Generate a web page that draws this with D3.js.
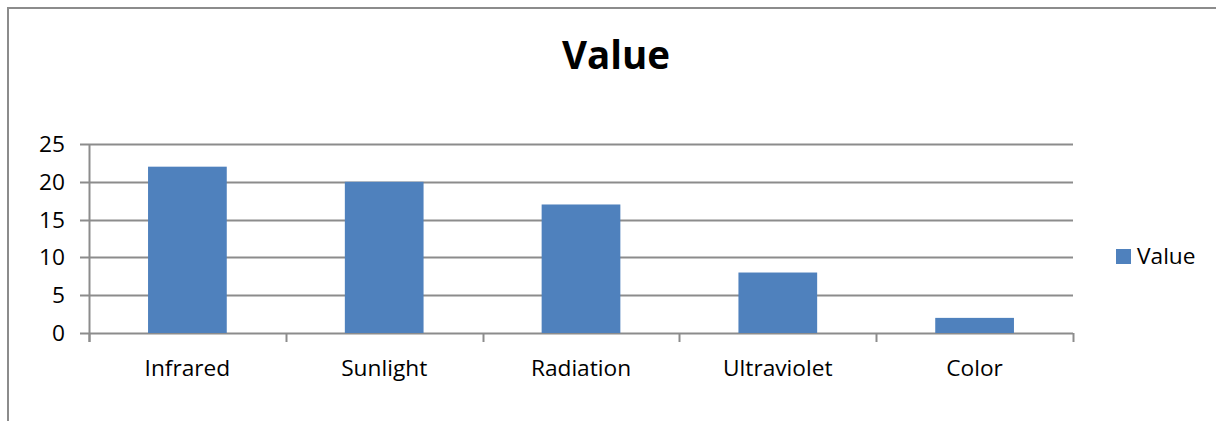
<!DOCTYPE html>
<html>
<head>
<meta charset="utf-8">
<script src="https://cdn.jsdelivr.net/npm/d3@7"></script>
<style>
  html, body { margin: 0; padding: 0; background: #fff; }
  svg { display: block; font-family: "Open Sans", "Noto Sans", sans-serif; }
</style>
</head>
<body>
<script>
// Chart data
const categories = ["Infrared", "Sunlight", "Radiation", "Ultraviolet", "Color"];
const values = [22, 20, 17, 8, 2];
const yTicks = [0, 5, 10, 15, 20, 25];
const seriesName = "Value";
const titleText = "Value";

const W = 1216, H = 421;
const plot = { left: 89, right: 1073, top: 144, bottom: 333 };
const barColor = "#4F81BD";
const gridColor = "#8c8c8c";
const labelSize = 22.7;

const svg = d3.select("body").append("svg")
  .attr("width", W).attr("height", H);

// Outer chart frame (top and left edges visible)
svg.append("path")
  .attr("d", `M8,${H} L8,8 L${W},8`)
  .attr("fill", "none")
  .attr("stroke", gridColor)
  .attr("stroke-width", 2);

const x = d3.scaleBand()
  .domain(categories)
  .range([plot.left, plot.right])
  .paddingInner(0.6)
  .paddingOuter(0.3);

const y = d3.scaleLinear()
  .domain([0, 25])
  .range([plot.bottom, plot.top]);

// Horizontal gridlines with small ticks left of the axis
svg.append("g")
  .selectAll("line")
  .data(yTicks)
  .join("line")
  .attr("x1", plot.left - 9)
  .attr("x2", plot.right)
  .attr("y1", d => Math.round(y(d)) + 0.5)
  .attr("y2", d => Math.round(y(d)) + 0.5)
  .attr("stroke", gridColor)
  .attr("stroke-width", 2);

// Y axis labels
svg.append("g")
  .selectAll("text")
  .data(yTicks)
  .join("text")
  .attr("x", 65)
  .attr("y", d => y(d) + 8)
  .attr("text-anchor", "end")
  .attr("font-size", labelSize)
  .attr("fill", "#000")
  .text(d => d);

// Vertical axis line
svg.append("line")
  .attr("x1", plot.left + 0.5).attr("x2", plot.left + 0.5)
  .attr("y1", plot.top).attr("y2", plot.bottom + 9)
  .attr("stroke", gridColor).attr("stroke-width", 2);

// Category boundary ticks on the x axis
const boundaries = d3.range(categories.length + 1).map(i => plot.left + i * (plot.right - plot.left) / categories.length);
svg.append("g")
  .selectAll("line")
  .data(boundaries)
  .join("line")
  .attr("x1", d => Math.round(d) + 0.5)
  .attr("x2", d => Math.round(d) + 0.5)
  .attr("y1", plot.bottom)
  .attr("y2", plot.bottom + 9)
  .attr("stroke", gridColor)
  .attr("stroke-width", 2);

// Bars
svg.append("g")
  .selectAll("rect")
  .data(categories.map((c, i) => ({ c, v: values[i] })))
  .join("rect")
  .attr("x", d => x(d.c))
  .attr("width", x.bandwidth())
  .attr("y", d => y(d.v))
  .attr("height", d => y(0) - y(d.v))
  .attr("fill", barColor);

// Category labels
svg.append("g")
  .selectAll("text")
  .data(categories)
  .join("text")
  .attr("x", d => x(d) + x.bandwidth() / 2)
  .attr("y", 376)
  .attr("text-anchor", "middle")
  .attr("font-size", labelSize)
  .attr("fill", "#000")
  .text(d => d);

// Title
svg.append("text")
  .attr("x", 616)
  .attr("y", 69)
  .attr("text-anchor", "middle")
  .attr("font-size", 38.5)
  .attr("font-weight", "bold")
  .attr("fill", "#000")
  .text(titleText);

// Legend
const legend = svg.append("g").attr("transform", "translate(1116,249)");
legend.append("rect")
  .attr("width", 15).attr("height", 15)
  .attr("fill", barColor);
legend.append("text")
  .attr("x", 21).attr("y", 15)
  .attr("font-size", labelSize)
  .attr("fill", "#000")
  .text(seriesName);
</script>
</body>
</html>
